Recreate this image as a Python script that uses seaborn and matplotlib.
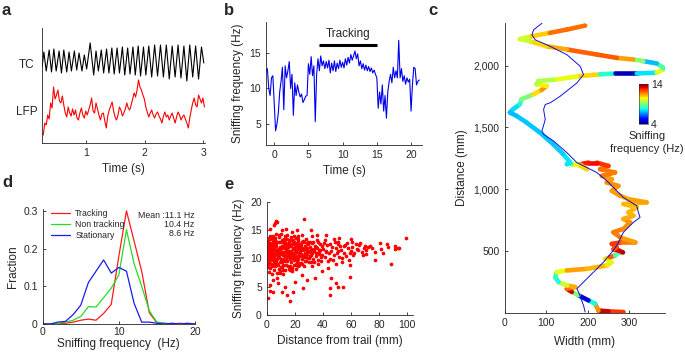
import numpy as np
import pandas as pd
import matplotlib
matplotlib.use("Agg")
import matplotlib.pyplot as plt
from matplotlib.collections import LineCollection
from matplotlib.ticker import FuncFormatter
import seaborn as sns

# ---------- a: TC / LFP (arbitrary offset units) ----------
tc_time = [0.25, 0.28, 0.32, 0.37, 0.41, 0.45, 0.49, 0.54, 0.58, 0.62,
           0.67, 0.71, 0.75, 0.80, 0.84, 0.88, 0.93, 0.97, 1.01, 1.07,
           1.13, 1.17, 1.21, 1.26, 1.30, 1.35, 1.39, 1.44, 1.48, 1.53,
           1.57, 1.62, 1.66, 1.71, 1.75, 1.80, 1.84, 1.89, 1.93, 1.98,
           2.02, 2.07, 2.12, 2.17, 2.22, 2.27, 2.32, 2.37, 2.42, 2.47,
           2.52, 2.57, 2.62, 2.67, 2.72, 2.77, 2.82, 2.87, 2.92, 2.97,
           3.01]
tc_val = [76, 91, 72, 93, 71, 94, 72, 92, 70, 93,
          71, 91, 72, 92, 73, 90, 72, 88, 74, 100,
          68, 92, 72, 93, 70, 94, 70, 95, 69, 95,
          70, 96, 68, 95, 69, 96, 68, 97, 67, 96,
          68, 97, 66, 98, 67, 98, 66, 98, 64, 97,
          66, 98, 65, 97, 62, 98, 66, 97, 64, 96,
          80]
lfp_t0, lfp_dt = 0.27, 0.025
lfp_val = [8, 20, 18, 28, 24, 40, 35, 56, 44, 48,
           53, 42, 40, 47, 38, 30, 26, 36, 30, 27,
           34, 28, 33, 25, 23, 30, 35, 28, 25, 32,
           28, 33, 38, 45, 32, 30, 40, 34, 28, 23,
           29, 30, 22, 15, 27, 33, 37, 41, 32, 26,
           23, 28, 36, 33, 27, 30, 34, 40, 35, 33,
           38, 44, 50, 46, 53, 63, 56, 53, 48, 44,
           36, 31, 26, 30, 33, 28, 25, 29, 31, 27,
           24, 20, 27, 31, 26, 28, 23, 27, 30, 25,
           20, 26, 31, 28, 23, 26, 28, 24, 20, 15,
           25, 33, 40, 45, 38, 36, 48, 44, 40, 45,
           36]

# ---------- b: sniffing frequency over time ----------
sniff_t0, sniff_dt = -1.2, 0.2
sniff_hz = [12.5, 12.8, 10.0, 9.0, 11.5, 11.8, 8.0, 4.0, 5.0, 6.5,
            9.5, 11.0, 13.0, 7.0, 13.2, 11.5, 12.5, 13.8, 10.0, 12.0,
            6.2, 10.8, 9.0, 10.5, 9.5, 8.8, 9.2, 8.0, 8.4, 8.9,
            9.0, 13.5, 12.0, 14.5, 11.8, 13.2, 5.3, 12.0, 14.2, 12.5,
            14.6, 13.2, 13.9, 12.8, 13.8, 12.9, 14.0, 12.2, 13.6, 12.5,
            13.9, 12.4, 13.6, 12.8, 14.0, 13.0, 13.7, 12.9, 14.2, 13.3,
            14.4, 13.6, 14.8, 14.0, 14.6, 15.3, 14.2, 14.9, 13.2, 13.9,
            12.8, 13.5, 12.6, 13.3, 12.5, 13.1, 12.4, 12.9, 12.2, 12.6,
            12.0, 11.5, 7.2, 9.5, 7.8, 10.5, 6.8, 9.0, 5.8, 9.5,
            11.0, 12.0, 10.8, 13.0, 11.5, 12.5, 11.5, 16.8, 11.5, 12.8,
            11.0, 11.8, 10.6, 11.5, 10.9, 11.3, 6.8, 10.5, 13.0, 12.8,
            10.5, 11.0, 11.2]
track_start, track_end, track_level = 6.5, 15.0, 16.2

# ---------- c: trajectory (mm) coloured by sniffing frequency ----------
path_w = [286, 250, 226, 218, 202, 178, 162, 150, 170, 150,
          130, 122, 126, 150, 198, 246, 258, 242, 254, 266,
          273, 285, 275, 262, 270, 258, 282, 314, 278, 262,
          286, 302, 286, 310, 298, 318, 286, 342, 298, 278,
          258, 274, 246, 258, 234, 266, 230, 250, 222, 202,
          182, 198, 174, 162, 154, 150, 158, 141, 117, 85,
          53, 29, 13, 21, 37, 41, 69, 89, 101, 77,
          81, 126, 182, 230, 266, 318, 366, 386, 366, 334,
          310, 270, 222, 150, 101, 61, 37, 65, 109, 150,
          194]
path_d = [8, 13, 20, 75, 102, 143, 170, 196, 210, 223,
          250, 290, 330, 344, 357, 384, 411, 438, 451, 465,
          486, 490, 505, 515, 532, 559, 572, 572, 612, 653,
          680, 733, 760, 787, 814, 854, 881, 894, 921, 948,
          988, 1028, 1055, 1082, 1109, 1136, 1163, 1189, 1216, 1216,
          1203, 1163, 1203, 1203, 1216, 1203, 1218, 1285, 1366, 1460,
          1540, 1594, 1621, 1648, 1688, 1728, 1768, 1803, 1836, 1849,
          1876, 1889, 1916, 1930, 1937, 1937, 1943, 1975, 2018, 2037,
          2050, 2063, 2090, 2131, 2157, 2198, 2216, 2238, 2265, 2292,
          2324]
path_hz = [11.3, 13.8, 12.8, 10.3, 5.3, 4.2, 13.8, 12.8, 11.0, 11.5,
           8.5, 7.2, 9.3, 11.5, 11.3, 11.0, 10.3, 10.0, 11.5, 12.8,
           4.0, 13.2, 13.8, 12.5, 11.8, 12.8, 12.2, 11.5, 11.3, 12.3,
           11.3, 11.8, 11.3, 11.3, 11.0, 11.3, 10.8, 11.5, 11.3, 11.3,
           11.6, 11.3, 11.8, 11.3, 11.6, 12.0, 11.6, 12.3, 12.8, 13.2,
           12.5, 10.3, 11.3, 9.5, 8.5, 7.3, 7.8, 7.3, 7.2, 7.2,
           7.2, 7.2, 7.0, 7.2, 7.6, 8.5, 9.5, 12.0, 11.0, 10.0,
           9.3, 10.0, 10.6, 11.0, 5.0, 4.0, 11.0, 9.5, 7.2, 7.0,
           11.3, 11.5, 12.8, 11.3, 11.3, 10.3, 9.5, 10.5, 11.3, 12.5,
           11.3]
trail_w = [194, 190, 178, 174, 190, 214, 238, 258, 270, 278,
           286, 298, 310, 326, 322, 318, 286, 270, 246, 222,
           198, 174, 150, 118, 94, 90, 98, 94, 98, 110,
           134, 174, 190, 182, 150, 110, 74, 66, 70, 90]
trail_d = [8, 62, 169, 196, 250, 330, 411, 491, 545, 599,
           653, 693, 733, 773, 814, 867, 934, 988, 1069, 1136,
           1176, 1216, 1297, 1391, 1444, 1471, 1565, 1646, 1686, 1700,
           1753, 1860, 1928, 1995, 2089, 2156, 2209, 2250, 2290, 2343]

# ---------- d: histograms of sniffing frequency ----------
freq_bins = list(range(21))
frac_tracking = [0, 0, 0, 0.002, 0.005, 0.01, 0.013, 0.01, 0.028, 0.052,
                 0.18, 0.30, 0.22, 0.14, 0.03, 0.003, 0.002, 0, 0.002, 0, 0]
frac_nontracking = [0, 0, 0.002, 0.005, 0.01, 0.02, 0.046, 0.045, 0.07, 0.095,
                    0.13, 0.25, 0.16, 0.10, 0.035, 0.005, 0.002, 0, 0, 0, 0]
frac_stationary = [0, 0, 0.005, 0.007, 0.025, 0.05, 0.11, 0.14, 0.17, 0.135,
                   0.15, 0.14, 0.055, 0.005, 0.005, 0.002, 0, 0.002, 0, 0.002, 0]
conditions = ["Tracking", "Non tracking", "Stationary"]
mean_labels = ["Mean :11.1 Hz", "10.4 Hz", "8.6 Hz"]

# ---------- e: sniffing vs distance from trail ----------
dist_mm = [0.5, 1.2, 2.0, 2.8, 3.5, 4.1, 5.0, 5.8, 6.5, 7.3,
           0.8, 1.6, 2.4, 3.1, 3.9, 4.6, 5.4, 6.1, 6.9, 7.8,
           8.5, 9.2, 10.1, 10.8, 11.6, 12.4, 13.1, 13.9, 14.7, 15.5,
           8.9, 9.7, 10.5, 11.3, 12.0, 12.8, 13.6, 14.3, 15.1, 15.9,
           16.4, 17.2, 18.0, 18.8, 19.5, 20.3, 21.1, 21.9, 22.6, 23.4,
           16.8, 17.6, 18.4, 19.1, 19.9, 20.7, 21.5, 22.2, 23.0, 23.8,
           24.2, 25.0, 25.8, 26.5, 27.3, 28.1, 28.9, 29.6, 30.4, 31.2,
           24.6, 25.4, 26.2, 27.0, 27.7, 28.5, 29.3, 30.0, 30.8, 31.6,
           32.0, 32.8, 33.5, 34.3, 35.1, 35.9, 36.6, 37.4, 38.2, 39.0,
           32.4, 33.2, 33.9, 34.7, 35.5, 36.3, 37.0, 37.8, 38.6, 39.4,
           0.3, 1.0, 1.9, 2.6, 3.3, 4.3, 5.2, 6.0, 6.7, 7.6,
           0.6, 1.4, 2.2, 3.0, 3.7, 4.4, 5.6, 6.3, 7.1, 8.0,
           8.2, 9.0, 9.9, 10.6, 11.4, 12.2, 13.0, 13.8, 14.5, 15.3,
           8.7, 9.5, 10.3, 11.1, 11.8, 12.6, 13.4, 14.1, 14.9, 15.7,
           16.1, 16.9, 17.8, 18.6, 19.3, 20.1, 20.9, 21.7, 22.4, 23.2,
           16.6, 17.4, 18.2, 19.0, 19.7, 20.5, 21.3, 22.0, 22.8, 23.6,
           24.4, 25.2, 26.0, 26.8, 27.5, 28.3, 29.1, 29.8, 30.6, 31.4,
           40.2, 41.5, 42.8, 44.0, 45.3, 46.6, 47.9, 49.1, 50.4, 51.7,
           40.8, 42.1, 43.4, 44.7, 46.0, 47.2, 48.5, 49.8, 51.0, 52.3,
           53.0, 54.6, 56.1, 57.5, 59.2, 60.8, 62.3, 64.0, 65.7, 67.4,
           53.8, 55.3, 56.9, 58.4, 60.0, 61.5, 63.2, 68.9, 70.5, 72.2,
           1.5, 3.6, 5.5, 7.0, 9.4, 11.7, 13.3, 15.8, 18.3, 20.6,
           2.3, 4.8, 6.4, 8.4, 10.2, 12.9, 14.6, 17.0, 19.4, 22.1,
           0.2, 0.4, 0.9, 1.1, 1.3, 1.8, 2.1, 2.5, 2.9, 3.2,
           3.4, 3.8, 4.0, 4.5, 4.9, 5.3, 5.7, 6.2, 6.6, 7.2,
           0.1, 0.7, 1.7, 2.7, 3.6, 4.7, 5.9, 6.8, 7.9, 9.1,
           10.0, 11.0, 12.1, 13.2, 14.2, 15.2, 16.3, 17.3, 18.5, 19.6,
           20.8, 21.8, 23.0, 24.0, 25.1, 26.3, 27.4, 28.6, 29.7, 30.9,
           1.1, 2.9, 5.1, 6.9, 8.8, 11.2, 12.9, 15.1, 16.8, 19.2,
           21.0, 22.7, 25.6, 27.9, 31.8, 33.6, 35.2, 36.9, 38.8, 42.4,
           6.4, 7.5, 26.5, 5.3, 13.5, 21.7, 31.2, 35.9, 41.8, 47.7,
           51.3, 59.6, 66.6, 70.2, 73.7, 80.8, 85.5, 91.5, 93.8, 98.8,
           93.4, 91.0, 86.3, 82.7, 81.5, 88.6, 76.8, 76.8, 74.5, 70.9,
           68.5, 65.0, 60.3, 59.0, 59.0, 54.3, 50.8, 49.6, 46.0, 44.9,
           44.9, 39.0, 34.3, 28.4, 26.0, 20.1, 18.9, 16.5, 14.2, 13.0,
           8.2, 7.1, 4.7, 2.3, 2.3, 1.2, 4.7, 10.6, 9.4, 11.8,
           16.5, 22.4, 24.8, 31.9, 36.6, 43.7, 49.6, 53.2, 2.3, 5.9,
           10.6, 17.7, 24.8, 31.9, 41.3, 50.8, 55.5]
sniff_e = [11.2, 9.0, 12.8, 10.1, 13.4, 8.6, 11.7, 9.5, 12.3, 10.6,
           13.1, 10.4, 8.3, 11.9, 9.8, 12.6, 10.2, 13.6, 8.9, 11.4,
           12.9, 9.3, 11.1, 13.3, 8.8, 10.7, 12.4, 9.9, 11.8, 13.0,
           10.3, 12.1, 8.5, 10.0, 12.7, 9.6, 11.5, 13.5, 8.7, 10.9,
           12.5, 9.4, 11.0, 13.2, 10.2, 12.0, 8.9, 11.6, 13.4, 10.5,
           8.6, 11.3, 12.9, 9.7, 11.5, 9.1, 12.8, 10.0, 11.9, 12.6,
           9.2, 11.8, 13.1, 10.3, 12.2, 9.6, 11.4, 12.9, 10.1, 11.7,
           12.4, 10.0, 8.7, 11.6, 13.4, 10.8, 12.5, 9.3, 12.0, 10.6,
           12.7, 9.9, 11.3, 12.2, 10.4, 11.9, 12.9, 10.8, 11.5, 12.3,
           10.9, 13.0, 9.4, 11.0, 13.3, 9.8, 11.2, 12.5, 9.6, 10.7,
           10.0, 12.0, 11.5, 13.4, 10.9, 11.0, 12.2, 10.9, 11.0, 12.9,
           8.5, 11.6, 9.9, 9.1, 12.1, 10.4, 8.7, 11.5, 9.9, 8.9,
           11.7, 13.8, 9.9, 12.2, 11.2, 13.5, 10.4, 11.1, 9.5, 12.0,
           8.2, 10.8, 12.9, 9.3, 10.7, 12.0, 8.9, 12.6, 10.4, 11.3,
           10.5, 13.3, 10.1, 11.8, 8.8, 10.9, 11.3, 9.5, 12.3, 8.9,
           12.2, 12.4, 8.4, 10.6, 13.0, 13.6, 10.4, 13.1, 10.9, 11.5,
           10.8, 9.1, 11.5, 12.9, 9.5, 12.7, 10.1, 11.4, 13.0, 9.4,
           11.6, 10.2, 12.4, 11.0, 9.9, 12.0, 10.6, 11.8, 12.6, 10.3,
           12.8, 11.4, 9.6, 12.5, 11.3, 9.7, 12.9, 10.9, 11.4, 12.2,
           11.5, 12.3, 10.4, 11.9, 10.9, 12.1, 11.0, 11.7, 12.4, 11.2,
           10.1, 11.0, 12.8, 9.8, 11.4, 10.6, 12.6, 11.9, 10.8, 12.0,
           7.6, 7.2, 8.0, 7.5, 7.8, 7.3, 7.9, 8.1, 7.7, 8.2,
           14.0, 13.9, 14.3, 14.1, 14.4, 13.9, 14.2, 13.8, 14.0, 13.9,
           12.5, 9.6, 10.7, 12.4, 13.6, 10.2, 11.4, 10.6, 12.0, 11.8,
           10.5, 8.8, 11.3, 13.0, 9.2, 11.6, 13.2, 10.0, 11.3, 9.0,
           11.9, 10.8, 9.4, 12.6, 11.9, 9.9, 10.8, 12.7, 10.3, 11.5,
           10.0, 11.9, 9.7, 11.8, 10.9, 10.2, 11.1, 10.6, 11.6, 10.4,
           11.1, 12.2, 10.6, 11.3, 12.9, 10.7, 11.0, 11.8, 11.2, 10.4,
           9.3, 10.3, 9.8, 9.4, 11.0, 8.5, 12.9, 12.5, 9.9, 12.5,
           10.0, 9.2, 10.5, 10.2, 11.1, 11.7, 12.0, 11.5, 10.2, 11.2,
           16.6, 16.4, 17.0, 15.9, 15.3, 15.1, 15.0, 14.2, 14.1, 13.4,
           13.7, 13.4, 12.8, 12.3, 12.3, 12.8, 12.5, 12.3, 11.9, 13.6,
           11.8, 11.7, 12.1, 10.9, 11.7, 9.1, 11.2, 9.7, 11.8, 11.5,
           10.6, 11.5, 13.0, 8.8, 6.8, 5.0, 5.0, 5.6, 6.5, 4.7,
           3.5, 7.7, 6.5, 6.2, 4.7, 5.9, 4.1, 2.4, 3.5, 5.0,
           5.6, 6.5, 6.2, 5.3, 4.2, 3.0, 4.1, 4.1, 7.4, 8.0,
           8.0, 8.6, 7.1, 8.6, 9.1, 8.3, 9.1, 9.4, 15.3, 16.2,
           15.0, 14.7, 14.2, 13.9, 13.3, 13.0, 12.4]

# ---------- figure ----------
sns.set_style("ticks")
plt.rcParams["font.family"] = ["Liberation Sans", "DejaVu Sans"]
plt.rcParams["axes.linewidth"] = 0.6
plt.rcParams["xtick.direction"] = "in"
plt.rcParams["ytick.direction"] = "in"
plt.rcParams["xtick.major.size"] = 2.5
plt.rcParams["ytick.major.size"] = 2.5
plt.rcParams["xtick.major.width"] = 0.6
plt.rcParams["ytick.major.width"] = 0.6
plt.rcParams["xtick.labelsize"] = 7.5
plt.rcParams["ytick.labelsize"] = 7.5
plt.rcParams["axes.labelsize"] = 8.5

W, H = 685, 352
fig = plt.figure(figsize=(W / 100, H / 100), dpi=100)


def rect(x0, y0, x1, y1):
    return [x0 / W, 1 - y1 / H, (x1 - x0) / W, (y1 - y0) / H]


def panel_letter(x, y, s):
    fig.text(x / W, 1 - y / H, s, fontsize=12, fontweight="bold", va="top", ha="left")


# a
ax_a = fig.add_axes(rect(42, 28, 205, 143))
lfp_t = lfp_t0 + lfp_dt * np.arange(len(lfp_val))
sns.lineplot(x=tc_time, y=tc_val, ax=ax_a, color="black", lw=0.8)
sns.lineplot(x=lfp_t, y=lfp_val, ax=ax_a, color="#ff0000", lw=0.8)
ax_a.set_xlim(0.248, 3.03)
ax_a.set_ylim(0, 115)
ax_a.set_xticks([1, 2, 3])
ax_a.set_yticks([])
ax_a.set_xlabel("Time (s)", labelpad=4)
sns.despine(ax=ax_a)
fig.text(27 / W, 1 - 65 / H, "TC", fontsize=8.5, ha="center", va="center")
fig.text(27 / W, 1 - 112 / H, "LFP", fontsize=8.5, ha="center", va="center")
panel_letter(2, 3, "a")

# b
ax_b = fig.add_axes(rect(266, 22, 422, 145))
sniff_t = sniff_t0 + sniff_dt * np.arange(len(sniff_hz))
sns.lineplot(x=sniff_t, y=sniff_hz, ax=ax_b, color="#0000ee", lw=0.8)
ax_b.plot([track_start, track_end], [track_level, track_level], color="black", lw=2.2,
          solid_capstyle="butt")
ax_b.text((track_start + track_end) / 2, track_level + 0.6, "Tracking", ha="center",
          va="bottom", fontsize=8.5)
ax_b.set_xlim(-1.2, 21.6)
ax_b.set_ylim(2.0, 19.4)
ax_b.set_xticks([0, 5, 10, 15, 20])
ax_b.set_yticks([5, 10, 15])
ax_b.set_xlabel("Time (s)", labelpad=4)
ax_b.set_ylabel("Sniffing frequency (Hz)", labelpad=4)
sns.despine(ax=ax_b)
panel_letter(224, 3, "b")

# c
ax_c = fig.add_axes(rect(504.5, 23, 665, 313))
norm = plt.Normalize(4, 14)
pts = np.column_stack([path_w, path_d])
segs = np.stack([pts[:-1], pts[1:]], axis=1)
seg_hz = (np.array(path_hz[:-1]) + np.array(path_hz[1:])) / 2
lc = LineCollection(segs, cmap="jet", norm=norm, linewidths=3.3, capstyle="round")
lc.set_array(seg_hz)
ax_c.add_collection(lc)
trail = pd.DataFrame({"w": trail_w, "d": trail_d})
sns.lineplot(data=trail, x="w", y="d", ax=ax_c, sort=False, estimator=None,
             color="#1010dd", lw=0.7)
ax_c.set_xlim(0, 386)
ax_c.set_ylim(0, 2345)
ax_c.set_xticks([0, 100, 200, 300])
ax_c.set_yticks([500, 1000, 1500, 2000])
ax_c.yaxis.set_major_formatter(FuncFormatter(lambda v, p: f"{int(v):,}"))
ax_c.set_xlabel("Width (mm)", labelpad=6)
ax_c.set_ylabel("Distance (mm)", labelpad=4)
sns.despine(ax=ax_c)
panel_letter(428, 3, "c")

cax = fig.add_axes(rect(639, 84, 648, 124))
sm = plt.cm.ScalarMappable(norm=norm, cmap="jet")
cb = fig.colorbar(sm, cax=cax, ticks=[4, 14])
cb.outline.set_linewidth(0.4)
cax.tick_params(length=0, labelsize=7.5, pad=2)
fig.text(647 / W, 1 - 131 / H, "Sniffing\nfrequency (Hz)", fontsize=8, ha="center",
         va="top", linespacing=1.35)

# d
ax_d = fig.add_axes(rect(42.7, 209, 195, 324))
hist = pd.DataFrame({
    "freq": freq_bins * 3,
    "frac": frac_tracking + frac_nontracking + frac_stationary,
    "cond": [c for c in conditions for _ in freq_bins],
})
sns.lineplot(data=hist, x="freq", y="frac", hue="cond", ax=ax_d, lw=0.9,
             palette=["#ff1a1a", "#22dd22", "#1a1aee"])
ax_d.set_xlim(0, 20)
ax_d.set_ylim(0, 0.305)
ax_d.set_xticks([0, 10, 20])
ax_d.set_yticks([0, 0.1, 0.2, 0.3])
ax_d.set_yticklabels(["0", "0.1", "0.2", "0.3"])
ax_d.tick_params(axis="x", pad=2)
ax_d.set_xlabel("Sniffing frequency  (Hz)", labelpad=1)
ax_d.set_ylabel("Fraction", labelpad=3)
ax_d.legend(loc="upper left", bbox_to_anchor=(0.03, 1.03), frameon=False, fontsize=6.3,
            handlelength=2.2, handletextpad=0.6, labelspacing=0.25, borderaxespad=0)
for i, s in enumerate(mean_labels):
    ax_d.text(0.995, 0.985 - i * 0.08, s, transform=ax_d.transAxes, ha="right", va="top",
              fontsize=6.3)
sns.despine(ax=ax_d)
panel_letter(2, 175, "d")

# e
ax_e = fig.add_axes(rect(266.7, 202, 413, 315))
sns.scatterplot(x=dist_mm, y=sniff_e, ax=ax_e, color="#ff0000", s=7, linewidth=0)
ax_e.set_xlim(0, 104)
ax_e.set_ylim(0, 20)
ax_e.set_xticks([0, 20, 40, 60, 80, 100])
ax_e.set_yticks([0, 5, 10, 15, 20])
ax_e.set_xlabel("Distance from trail (mm)", labelpad=4)
ax_e.set_ylabel("Sniffing frequency (Hz)", labelpad=4)
sns.despine(ax=ax_e)
panel_letter(224, 177, "e")

fig.savefig("out.png", dpi=100)
